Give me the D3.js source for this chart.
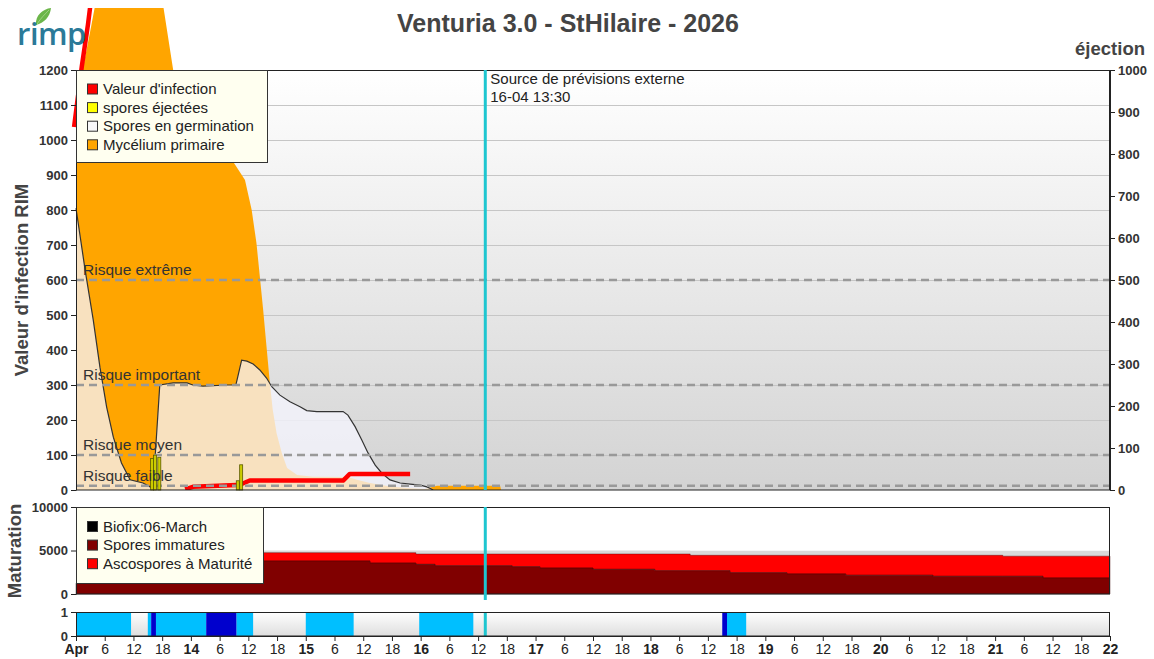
<!DOCTYPE html>
<html><head><meta charset="utf-8">
<script src="https://cdn.jsdelivr.net/npm/d3@7"></script>
<style>
body{margin:0;background:#fff}
svg{display:block}
text{font-family:"Liberation Sans",Arial,sans-serif}
</style>
</head><body>
<svg id="c" width="1154" height="659"></svg>
<script>
// ---------- DATA (hours since 13 Apr 2026 00:00) ----------
const myceliumHours  = [0,1.5,2.9,4.0,18.2,20.3,24.9,29.0,32.6,35.3,36.7,37.7,38.4,39.1,39.8,40.5,41.1,41.9,43.0,44.1,46.2,49.5,56.8,58.7,61.4,65.6,69.8,72.9,75.4,88.6,88.8];
const myceliumValues = [1080,1209,1306,1385,1385,1200,1100,1014,943,886,800,705,610,514,409,305,229,162,105,63,43,38,37,29,20,10,5,3,12,12,0];

const germHours  = [0,1.9,3.6,5.0,6.4,7.8,9.5,11.3,14.0,15.5,16.1,17.5,20.3,23.2,24.4,26.5,31.5,33.4,34.6,35.7,37.0,38.4,39.8,40.9,42.6,44.7,46.8,48.2,50.3,55.8,56.8,58.3,59.7,61.0,62.5,63.9,65.6,67.7,69.8,71.9,73.3,73.9,74.6];
const germValues = [805,629,486,351,237,151,77,29,20,9,3,300,306,306,300,297,300,300,371,368,360,343,320,295,271,252,238,227,224,224,214,181,143,106,71,48,29,20,17,14,9,5,0];

const infectionHours  = [-0.4,1.2,2.5,3.6,null,22.8,24.4,33.6,34.6,36.3,55.8,57.2,69.8];
const infectionValues = [1037,1209,1330,1450,null,2,9,14,17,27,27,46,46];

const ejectHours  = [15.9,16.5,17.4,33.8,34.5];
const ejectValues = [75,83,78,22,60];

const riskValues = [600,300,100,12];
const riskLabels = ["Risque extrême","Risque important","Risque moyen","Risque faible"];

const matHours     = [0,38.9,61.4,71.0,75.0,91.1,96.9,108.0,120.9,128.3,136.6,148.5,160.8,179.0,193.6,202.0,216];
const immatureVals = [1250,3800,3560,3410,3250,3140,2990,2840,2680,2680,2450,2310,2160,2040,2040,1850,1850];
const matureVals   = [0,950,1190,1190,1350,1460,1610,1760,1920,1770,2000,2140,2290,2410,2310,2500,2500];
const totalVals    = [1250,5000,5000,5000,5000,5000,5000,5000,5000,4980,4980,4980,4980,4980,4980,4980,4980];

const wetStart  = [0,15,16.7,33.5,48,71.7,136];
const wetEnd    = [11.5,15.7,27.2,37,58,83,140];
const rainStart = [15.7,27.2,135];
const rainEnd   = [16.7,33.5,136];

const forecastHour = 85.5;

const leftTicks  = [0,100,200,300,400,500,600,700,800,900,1000,1100,1200];
const rightTicks = [0,100,200,300,400,500,600,700,800,900,1000];
const matTicks   = [0,5000,10000];
const wetTicks   = [0,1];
const xTickHours  = [0,6,12,18,24,30,36,42,48,54,60,66,72,78,84,90,96,102,108,114,120,126,132,138,144,150,156,162,168,174,180,186,192,198,204,210,216];
const xTickLabels = ["Apr","6","12","18","14","6","12","18","15","6","12","18","16","6","12","18","17","6","12","18","18","6","12","18","19","6","12","18","20","6","12","18","21","6","12","18","22"];

const legendMain = ["Valeur d'infection","spores éjectées","Spores en germination","Mycélium primaire"];
const legendMat  = ["Biofix:06-March","Spores immatures","Ascospores à Maturité"];

// ---------- SCALES ----------
const L=76,R=1110;
const x  = d3.scaleLinear().domain([0,216]).range([L,R]);
const yL = d3.scaleLinear().domain([0,1200]).range([490,70]);
const yR = d3.scaleLinear().domain([0,1000]).range([490,70]);
const yM = d3.scaleLinear().domain([0,10000]).range([594,507]);
const yW = d3.scaleLinear().domain([0,1]).range([636,612]);
const fmt = d3.format("d");

const svg = d3.select("#c");
const defs = svg.append("defs");
const g1 = defs.append("linearGradient").attr("id","bgMain").attr("x1",0).attr("y1",0).attr("x2",0).attr("y2",1);
g1.append("stop").attr("offset","0%").attr("stop-color","#ffffff");
g1.append("stop").attr("offset","100%").attr("stop-color","#d3d3d3");
const g2 = defs.append("linearGradient").attr("id","bgWet").attr("x1",0).attr("y1",0).attr("x2",0).attr("y2",1);
g2.append("stop").attr("offset","0%").attr("stop-color","#ffffff");
g2.append("stop").attr("offset","100%").attr("stop-color","#dedede");
defs.append("clipPath").attr("id","clipMain").append("rect").attr("x",70).attr("y",8).attr("width",R-70).attr("height",490-8);

// ---------- TITLE ----------
svg.append("text").attr("x",568).attr("y",32).attr("text-anchor","middle")
  .attr("font-size",25).attr("font-weight","bold").attr("fill","#444")
  .text("Venturia 3.0 - StHilaire - 2026");

// ---------- MAIN PLOT ----------
svg.append("rect").attr("x",L).attr("y",70).attr("width",R-L).attr("height",420).attr("fill","url(#bgMain)");
svg.append("g").selectAll("line").data(leftTicks.filter(v=>v>0&&v<1200)).join("line")
  .attr("x1",L).attr("x2",R).attr("y1",d=>yL(d)+0.5).attr("y2",d=>yL(d)+0.5)
  .attr("stroke","#c6c6c6").attr("stroke-width",1);

const series = svg.append("g").attr("clip-path","url(#clipMain)");
const myc = myceliumHours.map((h,i)=>({h,v:myceliumValues[i]}));
const germ = germHours.map((h,i)=>({h,v:germValues[i]}));
const areaL = d3.area().x(d=>x(d.h)).y0(yL(0)).y1(d=>yL(d.v));
series.append("path").datum(myc).attr("d",areaL).attr("fill","#ffa500");
series.append("path").datum(germ).attr("d",areaL).attr("fill","#f6f6ff").attr("fill-opacity",0.75);

svg.append("g").selectAll("line").data(riskValues).join("line")
  .attr("x1",L).attr("x2",R).attr("y1",d=>yL(d)).attr("y2",d=>yL(d))
  .attr("stroke","#999").attr("stroke-width",2.5).attr("stroke-dasharray","8,5");

series.append("path").datum(germ).attr("d",d3.line().x(d=>x(d.h)).y(d=>yL(d.v)))
  .attr("fill","none").attr("stroke","#333").attr("stroke-width",1.2);

const inf = infectionHours.map((h,i)=>({h,v:infectionValues[i]}));
series.append("path").datum(inf)
  .attr("d",d3.line().defined(d=>d.h!==null).x(d=>x(d.h)).y(d=>yL(d.v)))
  .attr("fill","none").attr("stroke","#ff0000").attr("stroke-width",4.5).attr("stroke-linejoin","round");

svg.append("g").selectAll("rect").data(ejectHours.map((h,i)=>({h,v:ejectValues[i]}))).join("rect")
  .attr("x",d=>x(d.h)-1.5).attr("width",3).attr("y",d=>yR(d.v)).attr("height",d=>yR(0)-yR(d.v))
  .attr("fill","#cccc00").attr("stroke","#5a5a00").attr("stroke-width",0.8);

svg.append("g").selectAll("text").data(riskValues).join("text")
  .attr("x",83).attr("y",d=>yL(d)-5).attr("font-size",15.5).attr("fill","#333")
  .text((d,i)=>riskLabels[i]);

svg.append("rect").attr("x",L+0.5).attr("y",70.5).attr("width",R-L-1).attr("height",419.5)
  .attr("fill","none").attr("stroke","#222").attr("stroke-width",1);

const styleAxis = (g)=>{
  g.selectAll("path.domain").attr("stroke","#222");
  g.selectAll(".tick line").attr("stroke","#222");
  g.selectAll(".tick text").attr("font-size",13).attr("font-weight","bold").attr("fill","#333")
   .style("font-family","'Liberation Sans',Arial,sans-serif");
};
svg.append("g").attr("transform",`translate(${L},0)`)
  .call(d3.axisLeft(yL).tickValues(leftTicks).tickFormat(fmt).tickSize(5).tickSizeOuter(0).tickPadding(3))
  .call(styleAxis);
svg.append("g").attr("transform",`translate(${R},0)`)
  .call(d3.axisRight(yR).tickValues(rightTicks).tickFormat(fmt).tickSize(5).tickSizeOuter(0).tickPadding(3))
  .call(styleAxis);

svg.append("text").attr("transform","translate(28,280) rotate(-90)").attr("text-anchor","middle")
  .attr("font-size",18.5).attr("font-weight","bold").attr("fill","#444").text("Valeur d'infection RIM");
svg.append("text").attr("x",1145).attr("y",55).attr("text-anchor","end")
  .attr("font-size",18.5).attr("font-weight","bold").attr("fill","#444").text("éjection");

svg.append("line").attr("x1",x(forecastHour)).attr("x2",x(forecastHour)).attr("y1",70).attr("y2",490)
  .attr("stroke","#1ec6d0").attr("stroke-width",3);
svg.append("text").attr("x",x(forecastHour)+5).attr("y",84).attr("font-size",15).attr("fill","#222").text("Source de prévisions externe");
svg.append("text").attr("x",x(forecastHour)+5).attr("y",102).attr("font-size",15).attr("fill","#222").text("16-04 13:30");

const legColors = ["#ff0000","#ffff00","#f8f8f8","#ffa500"];
const lg = svg.append("g").attr("transform","translate(76.5,70.5)");
lg.append("rect").attr("width",191).attr("height",92).attr("fill","#fffff0").attr("stroke","#333");
legendMain.forEach((t,i)=>{
  const cy = 18.5+i*18.6;
  lg.append("rect").attr("x",11).attr("y",cy-5).attr("width",10).attr("height",10).attr("fill",legColors[i]).attr("stroke","#333");
  lg.append("text").attr("x",26.5).attr("y",cy+5).attr("font-size",15).attr("fill","#222").text(t);
});

// ---------- LOGO (on top) ----------
svg.append("path").attr("d","M36,25 C35,15 43,9 51,8 C50,17 44,23 36,25 Z").attr("fill","#6cb64a");
svg.append("path").attr("d","M37,24 C41,18 45,14 49,10").attr("stroke","#a8d88e").attr("stroke-width",0.8).attr("fill","none");
svg.append("text").attr("x",17).attr("y",45).attr("font-size",31).attr("font-weight",600)
  .style("font-family","'Open Sans',sans-serif").attr("fill","#2b7a98").attr("letter-spacing","-0.5").text("rimp");

// ---------- MATURATION PANEL ----------
svg.append("rect").attr("x",L).attr("y",507).attr("width",R-L).attr("height",87).attr("fill","#fff");
const matData = matHours.map((h,i)=>({h,im:immatureVals[i],ma:matureVals[i],tot:totalVals[i]}));
const step = d3.curveStepAfter;
svg.append("path").datum(matData).attr("d",d3.area().curve(step).x(d=>x(d.h)).y0(yM(0)).y1(d=>yM(d.tot)))
  .attr("fill","#d9d9d9");
svg.append("path").datum(matData).attr("d",d3.area().curve(step).x(d=>x(d.h)).y0(d=>yM(d.im)).y1(d=>yM(d.im+d.ma)))
  .attr("fill","#ff0000").attr("stroke","#400").attr("stroke-width",0.4);
svg.append("path").datum(matData).attr("d",d3.area().curve(step).x(d=>x(d.h)).y0(yM(0)).y1(d=>yM(d.im)))
  .attr("fill","#800000").attr("stroke","#300").attr("stroke-width",0.4);
svg.append("rect").attr("x",L+0.5).attr("y",507.5).attr("width",R-L-1).attr("height",86.5)
  .attr("fill","none").attr("stroke","#222");
svg.append("g").attr("transform",`translate(${L},0)`)
  .call(d3.axisLeft(yM).tickValues(matTicks).tickFormat(fmt).tickSize(5).tickSizeOuter(0).tickPadding(3))
  .call(styleAxis);
svg.append("text").attr("transform","translate(21,551) rotate(-90)").attr("text-anchor","middle")
  .attr("font-size",18.5).attr("font-weight","bold").attr("fill","#444").text("Maturation");
svg.append("line").attr("x1",x(forecastHour)).attr("x2",x(forecastHour)).attr("y1",507).attr("y2",600)
  .attr("stroke","#1ec6d0").attr("stroke-width",3);
const matColors = ["#000000","#800000","#ff0000"];
const lg2 = svg.append("g").attr("transform","translate(76.5,507.5)");
lg2.append("rect").attr("width",187).attr("height",76).attr("fill","#fffff0").attr("stroke","#333");
legendMat.forEach((t,i)=>{
  const cy = 19+i*18.6;
  lg2.append("rect").attr("x",11).attr("y",cy-5).attr("width",10).attr("height",10).attr("fill",matColors[i]).attr("stroke","#333");
  lg2.append("text").attr("x",26.5).attr("y",cy+5).attr("font-size",15).attr("fill","#222").text(t);
});

// ---------- WETNESS PANEL ----------
svg.append("rect").attr("x",L).attr("y",612).attr("width",R-L).attr("height",24).attr("fill","url(#bgWet)");
svg.append("g").selectAll("rect").data(wetStart.map((s,i)=>({s,e:wetEnd[i]}))).join("rect")
  .attr("x",d=>x(d.s)).attr("width",d=>x(d.e)-x(d.s)).attr("y",yW(1)).attr("height",yW(0)-yW(1)).attr("fill","#00bfff");
svg.append("g").selectAll("rect").data(rainStart.map((s,i)=>({s,e:rainEnd[i]}))).join("rect")
  .attr("x",d=>x(d.s)).attr("width",d=>x(d.e)-x(d.s)).attr("y",yW(1)).attr("height",yW(0)-yW(1)).attr("fill","#0000cd");
svg.append("line").attr("x1",x(forecastHour)).attr("x2",x(forecastHour)).attr("y1",612).attr("y2",636)
  .attr("stroke","#1ec6d0").attr("stroke-width",3);
svg.append("rect").attr("x",L+0.5).attr("y",612.5).attr("width",R-L-1).attr("height",23.5)
  .attr("fill","none").attr("stroke","#222");
svg.append("g").attr("transform",`translate(${L},0)`)
  .call(d3.axisLeft(yW).tickValues(wetTicks).tickFormat(fmt).tickSize(5).tickSizeOuter(0).tickPadding(3))
  .call(styleAxis);

const xa = svg.append("g").attr("transform","translate(0,636)")
  .call(d3.axisBottom(x).tickValues(xTickHours).tickSize(5).tickSizeOuter(0).tickPadding(3)
    .tickFormat((d,i)=>xTickLabels[i]));
xa.selectAll("path.domain").attr("stroke","#222");
xa.selectAll(".tick line").attr("stroke","#222");
xa.selectAll(".tick text").attr("font-size",14).attr("fill","#222")
  .style("font-family","'Liberation Sans',Arial,sans-serif")
  .attr("font-weight",(d)=>d%24===0?"bold":"normal");
</script>
</body></html>
